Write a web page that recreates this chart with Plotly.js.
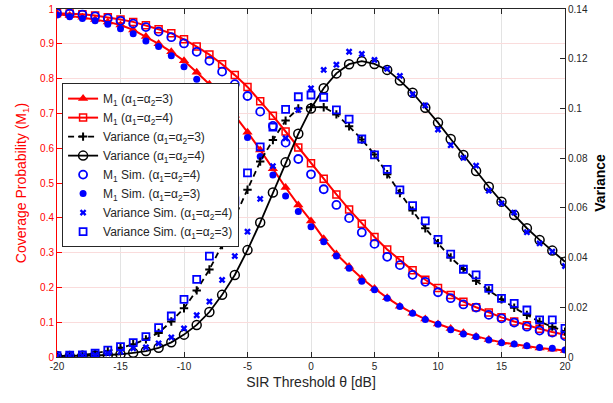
<!DOCTYPE html>
<html>
<head>
<meta charset="utf-8">
<script src="https://cdn.plot.ly/plotly-3.0.1.min.js"></script>
<style>html,body{margin:0;padding:0;background:#fff;}#chart{width:613px;height:403px;}</style>
</head>
<body>
<div id="chart"></div>
<script>
// SIR threshold (dB)
const theta = [-20,-19,-18,-17,-16,-15,-14,-13,-12,-11,-10,-9,-8,-7,-6,-5,-4,-3,-2,-1,0,1,2,3,4,5,6,7,8,9,10,11,12,13,14,15,16,17,18,19,20];

// Coverage probability M1 (analysis)
const m1A3 = [0.986,0.981,0.976,0.970,0.963,0.954,0.940,0.921,0.900,0.877,0.851,0.818,0.784,0.742,0.695,0.646,0.595,0.541,0.487,0.437,0.391,0.340,0.296,0.260,0.226,0.197,0.170,0.146,0.126,0.109,0.095,0.082,0.070,0.059,0.050,0.042,0.036,0.031,0.026,0.022,0.019];
const m1A4 = [0.988,0.987,0.985,0.981,0.976,0.970,0.963,0.953,0.942,0.930,0.913,0.892,0.869,0.841,0.810,0.776,0.735,0.693,0.648,0.602,0.557,0.512,0.467,0.424,0.383,0.345,0.309,0.278,0.249,0.222,0.198,0.178,0.159,0.143,0.128,0.114,0.102,0.091,0.081,0.072,0.064];

// Variance (analysis)
const varA3 = [0.0002,0.0005,0.0008,0.0015,0.0024,0.0037,0.0051,0.0071,0.0097,0.0143,0.0196,0.0268,0.0352,0.0450,0.0560,0.0673,0.0786,0.0873,0.0951,0.1000,0.1005,0.1005,0.0976,0.0928,0.0875,0.0815,0.0735,0.0660,0.0589,0.0518,0.0458,0.0400,0.0354,0.0307,0.0268,0.0232,0.0198,0.0169,0.0142,0.0122,0.0102];
const varA4 = [0.0004,0.0004,0.0005,0.0006,0.0008,0.0011,0.0017,0.0024,0.0037,0.0059,0.0090,0.0129,0.0181,0.0250,0.0330,0.0430,0.0541,0.0662,0.0783,0.0898,0.1000,0.1081,0.1141,0.1178,0.1190,0.1179,0.1155,0.1112,0.1063,0.1003,0.0943,0.0877,0.0813,0.0748,0.0685,0.0625,0.0571,0.0518,0.0471,0.0428,0.0383];

// Simulation results
const m1SimA4 = [0.988,0.987,0.984,0.979,0.973,0.966,0.958,0.948,0.935,0.919,0.901,0.877,0.851,0.820,0.784,0.750,0.705,0.664,0.616,0.569,0.525,0.482,0.437,0.399,0.358,0.325,0.288,0.264,0.236,0.216,0.186,0.169,0.151,0.142,0.121,0.111,0.099,0.087,0.076,0.070,0.060];
const m1SimA3 = [0.983,0.978,0.973,0.966,0.956,0.943,0.929,0.908,0.892,0.866,0.834,0.798,0.760,0.718,0.675,0.631,0.576,0.523,0.463,0.418,0.374,0.331,0.290,0.255,0.218,0.193,0.169,0.145,0.126,0.108,0.094,0.078,0.066,0.058,0.049,0.041,0.037,0.032,0.027,0.025,0.020];
const varSimA4 = [0.0003,0.0004,0.0005,0.0008,0.0015,0.0021,0.0035,0.0039,0.0055,0.0079,0.0115,0.0168,0.0223,0.0310,0.0406,0.0504,0.0636,0.0768,0.0880,0.0994,0.1081,0.1155,0.1176,0.1228,0.1219,0.1195,0.1159,0.1131,0.1057,0.1012,0.0915,0.0852,0.0801,0.0770,0.0669,0.0618,0.0581,0.0502,0.0457,0.0424,0.0366];
const varSimA3 = [0.0005,0.0007,0.0008,0.0015,0.0028,0.0042,0.0058,0.0082,0.0118,0.0165,0.0232,0.0312,0.0406,0.0512,0.0628,0.0741,0.0845,0.0925,0.0996,0.1047,0.1054,0.1045,0.0994,0.0957,0.0877,0.0813,0.0755,0.0672,0.0609,0.0548,0.0473,0.0414,0.0353,0.0330,0.0276,0.0236,0.0216,0.0189,0.0149,0.0149,0.0115];

// Tick labels
const xTickVals = [-20,-15,-10,-5,0,5,10,15,20];
const xTickText = ['-20','-15','-10','-5','0','5','10','15','20'];
const yTickVals = [0,0.1,0.2,0.3,0.4,0.5,0.6,0.7,0.8,0.9,1];
const yTickText = ['0','0.1','0.2','0.3','0.4','0.5','0.6','0.7','0.8','0.9','1'];
const y2TickVals = [0,0.02,0.04,0.06,0.08,0.1,0.12,0.14];
const y2TickText = ['0','0.02','0.04','0.06','0.08','0.1','0.12','0.14'];

const RED = '#ff0000', BLUE = '#0000ff', BLK = '#000000';
const FONT = 'Liberation Sans, Arial, Helvetica, sans-serif';
const lbl = (pre, a) => pre + ' (α<sub>1</sub>=α<sub>2</sub>=' + a + ')';

const traces = [
  {x: theta, y: m1A3, name: lbl('M<sub>1</sub>', 3), mode: 'lines+markers', yaxis: 'y',
   line: {color: RED, width: 2}, marker: {symbol: 'triangle-up', size: 9, color: RED}},
  {x: theta, y: m1A4, name: lbl('M<sub>1</sub>', 4), mode: 'lines+markers', yaxis: 'y',
   line: {color: RED, width: 2}, marker: {symbol: 'square-open', size: 7, color: RED, line: {width: 1.5}}},
  {x: theta, y: varA3, name: lbl('Variance', 3), mode: 'lines+markers', yaxis: 'y2',
   line: {color: BLK, width: 1.8, dash: '6px,4px'}, marker: {symbol: 'cross-thin-open', size: 6, color: BLK, line: {width: 2}}},
  {x: theta, y: varA4, name: lbl('Variance', 4), mode: 'lines+markers', yaxis: 'y2',
   line: {color: BLK, width: 1.8}, marker: {symbol: 'circle-open', size: 9, color: BLK, line: {width: 1.5}}},
  {x: theta, y: m1SimA4, name: lbl('M<sub>1</sub> Sim.', 4), mode: 'markers', yaxis: 'y',
   marker: {symbol: 'circle-open', size: 8, color: BLUE, line: {width: 1.8}}},
  {x: theta, y: m1SimA3, name: lbl('M<sub>1</sub> Sim.', 3), mode: 'markers', yaxis: 'y',
   marker: {symbol: 'circle', size: 7, color: BLUE}},
  {x: theta, y: varSimA4, name: lbl('Variance Sim.', 4), mode: 'markers', yaxis: 'y2',
   marker: {symbol: 'x', size: 6, color: BLUE}},
  {x: theta, y: varSimA3, name: lbl('Variance Sim.', 3), mode: 'markers', yaxis: 'y2',
   marker: {symbol: 'square-open', size: 7, color: BLUE, line: {width: 1.8}}}
];

const layout = {
  width: 613, height: 403,
  margin: {l: 57, r: 48, t: 9, b: 46},
  paper_bgcolor: '#fff', plot_bgcolor: '#fff',
  font: {family: FONT, size: 10, color: '#262626'},
  showlegend: true,
  legend: {x: 0.01, y: 0.787, xanchor: 'left', yanchor: 'top', bgcolor: '#fff',
           bordercolor: '#262626', borderwidth: 1, font: {size: 12, color: '#262626'},
           tracegroupgap: 0, itemwidth: 30},
  xaxis: {range: [-20, 20], tickvals: xTickVals, ticktext: xTickText, ticks: 'inside', ticklen: 5,
          showline: true, linecolor: '#262626', linewidth: 1, mirror: 'ticks', tickcolor: '#262626',
          showgrid: true, gridcolor: '#e3e3e3', zeroline: false,
          tickfont: {size: 10, color: '#262626'},
          title: {text: 'SIR Threshold θ [dB]', font: {size: 14, color: '#262626'}, standoff: 6}},
  yaxis: {range: [0, 1], tickvals: yTickVals, ticktext: yTickText, ticks: 'inside', ticklen: 5,
          showline: true, linecolor: RED, tickcolor: RED, linewidth: 1, mirror: false,
          showgrid: true, gridcolor: '#fadcdc', zeroline: false,
          tickfont: {size: 10, color: RED},
          title: {text: 'Coverage Probability (M<sub>1</sub>)', font: {size: 14, color: RED}, standoff: 10}},
  yaxis2: {range: [0, 0.14], tickvals: y2TickVals, ticktext: y2TickText, overlaying: 'y', side: 'right',
           ticks: 'inside', ticklen: 5, showline: true, linecolor: '#262626', tickcolor: '#262626',
           showgrid: false, zeroline: false, tickfont: {size: 10, color: '#262626'},
           title: {text: '<b>Variance</b>', font: {size: 14, color: BLK}, standoff: 8}}
};

Plotly.newPlot('chart', traces, layout, {displayModeBar: false, staticPlot: true});
</script>
</body>
</html>
